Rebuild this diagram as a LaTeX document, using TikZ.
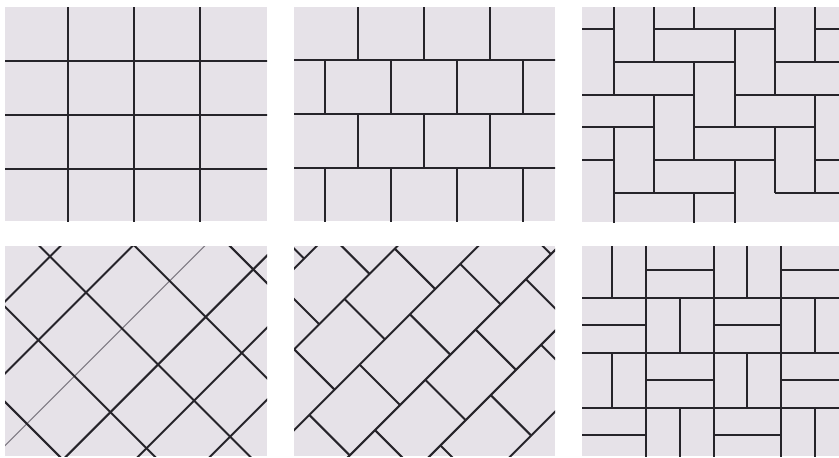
\documentclass[tikz,border=0pt]{standalone}
\definecolor{tilebg}{RGB}{230,226,232}
\definecolor{linec}{RGB}{38,36,42}
\definecolor{thinc}{RGB}{125,121,130}
\begin{document}
\begin{tikzpicture}[x=1pt,y=-1pt,
  tileline/.style={line width=2pt, draw=linec},
  thinline/.style={line width=1pt, draw=thinc}]
\useasboundingbox (0,0) rectangle (839,458);
\fill[white] (0,0) rectangle (839,458);

% ---------- Panel 1: straight grid ----------
\begin{scope}
\clip (5,7) rectangle (267,221);
\fill[tilebg] (5,7) rectangle (267,221);
\foreach \x in {68,134,200} \draw[tileline] (\x,0) -- (\x,230);
\foreach \y in {61,115,169} \draw[tileline] (0,\y) -- (280,\y);
\end{scope}

% ---------- Panel 2: running bond ----------
\begin{scope}
\clip (294,7) rectangle (555,221);
\fill[tilebg] (294,7) rectangle (555,221);
\foreach \y in {60,114,168} \draw[tileline] (290,\y) -- (560,\y);
\foreach \x in {358,424,490} {
  \draw[tileline] (\x,0) -- (\x,60);
  \draw[tileline] (\x,114) -- (\x,168);
}
\foreach \x in {325,391,457,523} {
  \draw[tileline] (\x,60) -- (\x,114);
  \draw[tileline] (\x,168) -- (\x,230);
}
\end{scope}

% ---------- Panel 3: herringbone ----------
\begin{scope}
\clip (582,7) rectangle (839,222);
\fill[tilebg] (582,7) rectangle (839,222);
\begin{scope}[shift={(573.3,-3.33)}, x=40.33pt, y=-32.67pt]
% horizontals
\draw[tileline] (0,1) -- (1,1);
\draw[tileline] (2,1) -- (5,1);
\draw[tileline] (6,1) -- (7,1);
\draw[tileline] (1,2) -- (4,2);
\draw[tileline] (5,2) -- (7,2);
\draw[tileline] (0,3) -- (3,3);
\draw[tileline] (4,3) -- (7,3);
\draw[tileline] (0,4) -- (2,4);
\draw[tileline] (3,4) -- (6,4);
\draw[tileline] (0,5) -- (1,5);
\draw[tileline] (2,5) -- (5,5);
\draw[tileline] (6,5) -- (7,5);
\draw[tileline] (1,6) -- (4,6);
\draw[tileline] (5,6) -- (7,6);
% verticals
\draw[tileline] (1,0) -- (1,3);
\draw[tileline] (1,4) -- (1,7);
\draw[tileline] (2,0) -- (2,2);
\draw[tileline] (2,3) -- (2,6);
\draw[tileline] (3,0) -- (3,1);
\draw[tileline] (3,2) -- (3,5);
\draw[tileline] (3,6) -- (3,7);
\draw[tileline] (4,1) -- (4,4);
\draw[tileline] (4,5) -- (4,7);
\draw[tileline] (5,0) -- (5,3);
\draw[tileline] (5,4) -- (5,6);
\draw[tileline] (6,0) -- (6,2);
\draw[tileline] (6,3) -- (6,6);
\end{scope}
\end{scope}

% ---------- Panel 4: diagonal grid ----------
\begin{scope}
\clip (5,246) rectangle (267,456);
\fill[tilebg] (5,246) rectangle (267,456);
\foreach \k in {0,1,3,4,5} {
  \pgfmathsetmacro\cc{306.5+72.05*\k}
  \draw[tileline] ({\cc-200},200) -- ({\cc-500},500);
}
\pgfmathsetmacro\cc{306.5+72.05*2}
\draw[thinline] ({\cc-200},200) -- ({\cc-500},500);
\foreach \m in {0,...,4} {
  \pgfmathsetmacro\cc{16.1+95.2*\m}
  \draw[tileline] ({200-\cc},200) -- ({500-\cc},500);
}
\end{scope}

% ---------- Panel 5: diagonal running bond ----------
\begin{scope}
\clip (294,246) rectangle (555,456);
\fill[tilebg] (294,246) rectangle (555,456);
\foreach \k in {-1,...,6} {
  \pgfmathsetmacro\cc{562.7+80.8*\k}
  \draw[tileline] ({\cc-200},200) -- ({\cc-500},500);
}
\foreach \b in {0,...,7} {
  \pgfmathsetmacro\aa{-45.5+50.5*mod(\b,2)}
  \pgfmathsetmacro\cl{562.7+80.8*(\b-1)}
  \pgfmathsetmacro\ch{562.7+80.8*\b}
  \foreach \n in {-4,...,3} {
    \pgfmathsetmacro\dd{\aa+100.6*\n}
    \draw[tileline] ({(\cl-\dd)/2},{(\cl+\dd)/2}) -- ({(\ch-\dd)/2},{(\ch+\dd)/2});
  }
}
\end{scope}

% ---------- Panel 6: basket weave ----------
\begin{scope}
\clip (582,246) rectangle (839,456);
\fill[tilebg] (582,246) rectangle (839,456);
\begin{scope}[shift={(578.5,243)}, x=33.75pt, y=-27.45pt]
\foreach \i in {2,4,6} \draw[tileline] (\i,-1) -- (\i,9);
\foreach \j in {2,4,6} \draw[tileline] (-1,\j) -- (9,\j);
\foreach \bc in {0,...,3} {
  \foreach \br in {0,...,3} {
    \pgfmathtruncatemacro\pq{mod(\bc+\br,2)}
    \ifnum\pq=0
      \draw[tileline] ({2*\bc+1},{2*\br}) -- ({2*\bc+1},{2*\br+2});
    \else
      \draw[tileline] ({2*\bc},{2*\br+1}) -- ({2*\bc+2},{2*\br+1});
    \fi
  }
}
\end{scope}
\end{scope}
\end{tikzpicture}
\end{document}
